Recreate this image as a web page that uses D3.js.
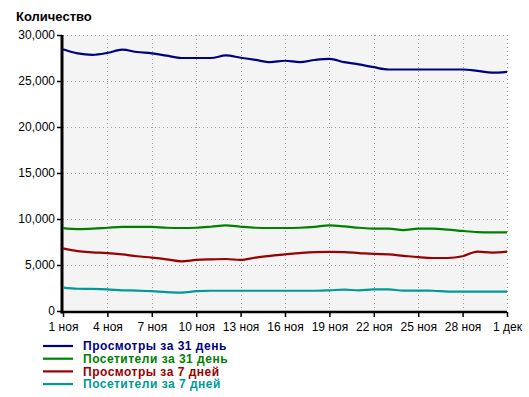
<!DOCTYPE html>
<html><head><meta charset="utf-8">
<script src="https://cdn.jsdelivr.net/npm/d3@7"></script>
<style>body{margin:0;background:#fff}svg{display:block}</style>
</head><body>
<svg id="c" width="529" height="397"></svg>
<script>
const days = d3.range(31);
const dayLabels = ["1 ноя","4 ноя","7 ноя","10 ноя","13 ноя","16 ноя","19 ноя","22 ноя","25 ноя","28 ноя","1 дек"];
const yTicks = [0,5000,10000,15000,20000,25000,30000];
const seriesNames = ["Просмотры за 31 день","Посетители за 31 день","Просмотры за 7 дней","Посетители за 7 дней"];
const seriesColors = ["#000080","#008000","#990000","#009999"];
const views31 = [28450,28000,27850,28050,28400,28150,28000,27750,27500,27500,27500,27780,27530,27300,27050,27200,27050,27280,27400,27050,26800,26500,26250,26250,26250,26250,26250,26250,26100,25900,26000];
const visitors31 = [9000,8900,8950,9050,9150,9150,9150,9050,9020,9050,9160,9300,9160,9050,9020,9020,9050,9150,9300,9200,9050,8950,8950,8800,8950,8950,8850,8700,8580,8550,8550];
const views7 = [6800,6500,6380,6300,6150,5950,5800,5620,5400,5560,5620,5650,5550,5800,6000,6150,6300,6400,6420,6400,6300,6200,6150,6000,5850,5760,5760,5950,6450,6350,6450];
const visitors7 = [2550,2420,2400,2350,2250,2220,2160,2050,2000,2150,2200,2200,2200,2200,2200,2200,2200,2200,2250,2320,2250,2350,2350,2210,2210,2200,2100,2100,2100,2100,2100];
const seriesValues = [views31, visitors31, views7, visitors7];

const svg = d3.select("#c");
const font = "'Liberation Sans', Arial, sans-serif";
const x = d3.scaleLinear().domain([0,30]).range([63,507]);
const y = d3.scaleLinear().domain([0,30000]).range([311,35]);

svg.append("rect").attr("x",x(0)).attr("y",y(30000)).attr("width",x(30)-x(0)).attr("height",y(0)-y(30000)).attr("fill","#f4f4f4");

// grid
const gx = svg.append("g").attr("stroke","#999").attr("stroke-width",1).attr("stroke-dasharray","1,3");
d3.range(3,31,3).forEach(d=>{
  gx.append("line").attr("x1",Math.round(x(d))+0.5).attr("x2",Math.round(x(d))+0.5).attr("y1",y(30000)).attr("y2",y(0));
});
yTicks.filter(v=>v>0).forEach(v=>{
  gx.append("line").attr("x1",x(0)).attr("x2",x(30)).attr("y1",Math.round(y(v))+0.5).attr("y2",Math.round(y(v))+0.5);
});

// axes
const yAxis = d3.axisLeft(y).tickValues(yTicks).tickSize(5).tickPadding(2).tickFormat(d3.format(","));
const ya = svg.append("g").attr("transform",`translate(${x(0)-1},0)`).call(yAxis);
ya.select(".domain").remove();
ya.selectAll("line").attr("stroke","#000").attr("stroke-width",1.5);
ya.selectAll("text").attr("font-family",font).attr("font-size",12).attr("fill","#000");

const xAxis = d3.axisBottom(x).tickValues(d3.range(0,31,3)).tickSize(5).tickPadding(5).tickFormat((d,i)=>dayLabels[i]);
const xa = svg.append("g").attr("transform",`translate(0,${y(0)+1})`).call(xAxis);
xa.select(".domain").remove();
xa.selectAll("line").attr("stroke","#000").attr("stroke-width",1.5);
xa.selectAll("text").attr("font-family",font).attr("font-size",12).attr("fill","#000");

svg.append("line").attr("x1",x(0)-1).attr("x2",x(0)-1).attr("y1",y(30000)).attr("y2",y(0)+2.5).attr("stroke","#000").attr("stroke-width",3);
svg.append("line").attr("x1",x(0)-2.5).attr("x2",x(30)).attr("y1",y(0)+1).attr("y2",y(0)+1).attr("stroke","#000").attr("stroke-width",2.5);

// lines
const line = d3.line().x((d,i)=>x(days[i])).y(d=>y(d)).curve(d3.curveMonotoneX);
seriesValues.forEach((vals,k)=>{
  svg.append("path").datum(vals).attr("d",line).attr("fill","none").attr("stroke",seriesColors[k]).attr("stroke-width",2.2).attr("stroke-linejoin","round");
});

// title
svg.append("text").attr("x",16).attr("y",21).attr("font-family",font).attr("font-weight","bold").attr("font-size",13).text("Количество");

// legend
seriesNames.forEach((n,k)=>{
  const ly = 346 + k*12.7;
  svg.append("line").attr("x1",43).attr("x2",73).attr("y1",ly).attr("y2",ly).attr("stroke",seriesColors[k]).attr("stroke-width",2.2);
  svg.append("text").attr("x",83).attr("y",ly+4.3).attr("font-family",font).attr("font-weight","bold").attr("font-size",12).attr("letter-spacing",0.5).attr("fill",seriesColors[k]).text(n);
});
</script>
</body></html>
